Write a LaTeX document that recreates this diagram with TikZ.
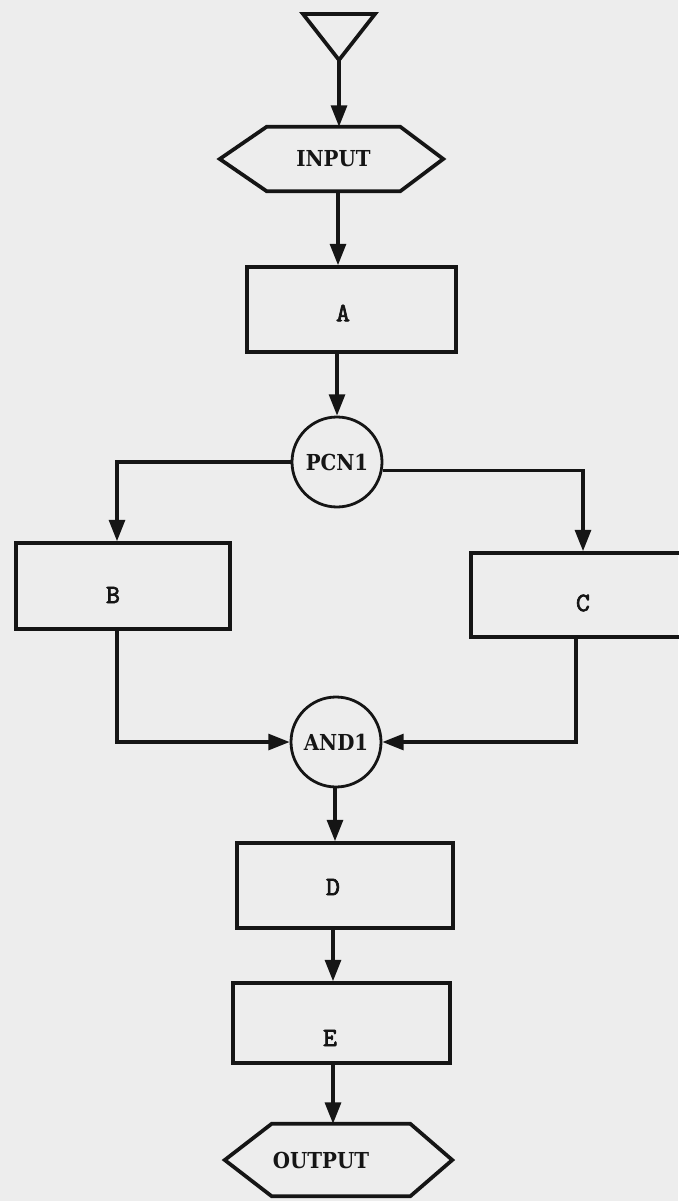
\documentclass[tikz,border=0pt]{standalone}
\usepackage{fontspec}
\usetikzlibrary{arrows.meta,calc}
% label faces: slab serif for terminals and junctions, typewriter for modules
\newfontfamily\tagfont{DejaVu Serif Condensed Bold}
\newfontfamily\boxfont{lmmono10-regular.otf}[FakeBold=2.5]
\def\pxu{0.75pt}
\definecolor{paper}{HTML}{EDEDED}
\definecolor{ink}{HTML}{151515}

\begin{document}
\begin{tikzpicture}[x=0.75pt,y=-0.75pt,
  line/.style={draw=ink, line width=2.3pt},
  arrow/.style={line, -{Triangle[length=16pt,width=12pt]}},
  module/.style={draw=ink, line width=2.8pt, rectangle, inner sep=0pt},
  boxtext/.style={inner sep=0pt, text=ink, font=\boxfont\fontsize{20}{22}\selectfont},
  junction/.style={draw=ink, line width=2.1pt, circle, minimum size=90*\pxu,
    inner sep=0pt, text=ink, font=\tagfont\fontsize{16.5}{18}\selectfont},
  terminal/.style={rectangle, inner sep=0pt, text=ink,
    font=\tagfont\fontsize{16.5}{18}\selectfont},
  outline/.style={draw=ink, line width=2.8pt, line join=miter}
]
% page
\fill[paper] (0,0) rectangle (678,1201);
\useasboundingbox (0,0) rectangle (678,1201);

% entry triangle
\coordinate (start) at (339,60);
\draw[outline] (303,14) -- (375,14) -- (start) -- cycle;

% input terminal
\node[terminal, minimum width=133*\pxu, minimum height=64*\pxu] (input) at (333.5,159) {INPUT};
\draw[outline] (input.north west) -- (input.north east) -- ($(input.east)+(43,0)$)
  -- (input.south east) -- (input.south west) -- ($(input.west)+(-47,0)$) -- cycle;

% modules and junctions
\node[module, minimum width=209*\pxu, minimum height=85*\pxu] (a) at (351.5,309.5) {};
\node[junction] (pcn) at (337,462) {PCN1};
\node[module, minimum width=214*\pxu, minimum height=86*\pxu] (b) at (123,586) {};
\node[module, minimum width=214*\pxu, minimum height=84*\pxu] (c) at (578,595) {};
\node[junction] (andgate) at (336,742) {AND1};
\node[module, minimum width=216*\pxu, minimum height=85*\pxu] (d) at (345,885.5) {};
\node[module, minimum width=217*\pxu, minimum height=80*\pxu] (e) at (341.5,1023) {};

% module names, set slightly off the box centres
\node[boxtext] (a-name) at ([shift={(-8.5,3.5)}]a.center) {A};
\node[boxtext] (b-name) at ([shift={(-10,9)}]b.center) {B};
\node[boxtext] (c-name) at ([shift={(5,8)}]c.center) {C};
\node[boxtext] (d-name) at ([shift={(-12,1.5)}]d.center) {D};
\node[boxtext] (e-name) at ([shift={(-11.5,15)}]e.center) {E};

% output terminal
\node[terminal, minimum width=138*\pxu, minimum height=72*\pxu] (output) at (341,1160) {};
\node[terminal] (output-name) at ([shift={(-20,0)}]output.center) {OUTPUT};
\draw[outline] (output.north west) -- (output.north east) -- ($(output.east)+(42,0)$)
  -- (output.south east) -- (output.south west) -- ($(output.west)+(-47,0)$) -- cycle;

% flow
\draw[arrow] (start) -- (start |- input.north);
\draw[arrow] ([xshift=4.5*\pxu]input.south) -- ([xshift=-13.5*\pxu]a.north);
\draw[arrow] ([xshift=-14.5*\pxu]a.south) -- (pcn.north);
\draw[arrow] (pcn.west) -| ([xshift=-6*\pxu]b.north);
\draw[arrow] (pcn.-10) -| ([xshift=5*\pxu]c.north);
\draw[arrow] ([xshift=-6*\pxu]b.south) |- (andgate.west);
\draw[arrow] ([xshift=-2*\pxu]c.south) |- (andgate.east);
\draw[arrow] ([xshift=-1*\pxu]andgate.south) -- ([xshift=-10*\pxu]d.north);
\draw[arrow] ([xshift=-12*\pxu]d.south) -- ([xshift=-8.5*\pxu]e.north);
\draw[arrow] ([xshift=-8.5*\pxu]e.south) -- ([xshift=-8*\pxu]output.north);
\end{tikzpicture}
\end{document}
